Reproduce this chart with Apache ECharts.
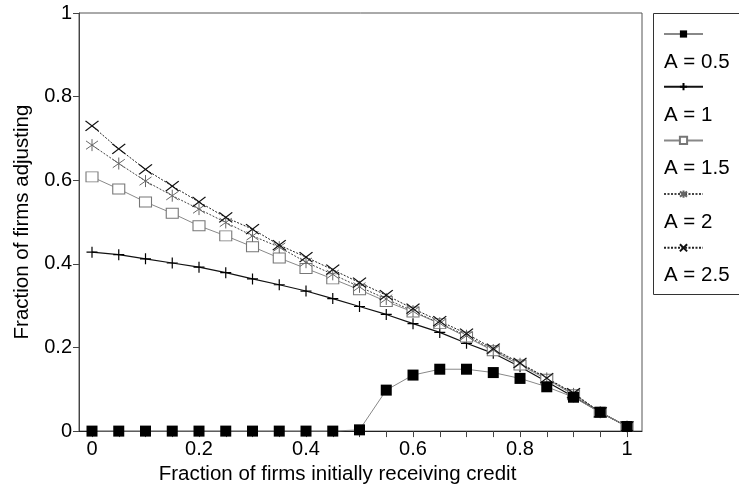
<!DOCTYPE html>
<html>
<head>
<meta charset="utf-8">
<script src="https://cdn.jsdelivr.net/npm/echarts@6/dist/echarts.min.js"></script>
<style>
  html, body { margin: 0; padding: 0; background: #fff; }
  #chart { width: 739px; height: 490px; }
</style>
</head>
<body>
<div id="chart"></div>
<script>
  // fraction of firms initially receiving credit
  const xValues = [0, 0.05, 0.1, 0.15, 0.2, 0.25, 0.3, 0.35, 0.4, 0.45, 0.5,
    0.55, 0.6, 0.65, 0.7, 0.75, 0.8, 0.85, 0.9, 0.95, 1]
  const xLabelValues = [0, 0.2, 0.4, 0.6, 0.8, 1]
  const seriesNames = ['A = 0.5', 'A = 1', 'A = 1.5', 'A = 2', 'A = 2.5']

  // fraction of firms adjusting, one list per A
  const a05 = [0, 0, 0, 0, 0, 0, 0, 0, 0, 0, 0.003, 0.098, 0.134, 0.148, 0.148,
    0.140, 0.126, 0.106, 0.081, 0.045, 0.011]
  const a1 = [0.428, 0.422, 0.412, 0.402, 0.392, 0.379, 0.364, 0.350, 0.335, 0.317,
    0.298, 0.279, 0.257, 0.236, 0.210, 0.186, 0.154, 0.118, 0.082, 0.045, 0.011]
  const a15 = [0.608, 0.579, 0.548, 0.521, 0.491, 0.467, 0.441, 0.414, 0.389, 0.364,
    0.338, 0.310, 0.285, 0.257, 0.225, 0.192, 0.158, 0.124, 0.087, 0.045, 0.011]
  const a2 = [0.684, 0.640, 0.598, 0.563, 0.531, 0.499, 0.467, 0.440, 0.404, 0.375,
    0.345, 0.316, 0.287, 0.258, 0.228, 0.194, 0.161, 0.126, 0.089, 0.045, 0.011]
  const a25 = [0.730, 0.675, 0.626, 0.586, 0.548, 0.511, 0.483, 0.445, 0.416, 0.386,
    0.355, 0.325, 0.293, 0.263, 0.233, 0.197, 0.163, 0.127, 0.091, 0.045, 0.011]

  const FONT = '"Liberation Sans", Arial, Helvetica, sans-serif'
  const pair = (ys) => xValues.map((x, i) => [x, ys[i]])

  // marker shapes drawn as stroked paths
  const plusPath = 'path://M0,5L10,5M5,0L5,10'
  const starPath = 'path://M5,0L5,10M0.7,1.5L9.3,8.5M0.7,8.5L9.3,1.5'
  const crossPath = 'path://M0,0L10,10M0,10L10,0'

  const chart = echarts.init(document.getElementById('chart'))

  // legend texts sit under each legend line
  const legendTexts = seriesNames.map((name, i) => ({
    type: 'text',
    style: {
      x: 664,
      y: 62 + i * 53.3,
      text: name,
      font: '20.5px ' + FONT,
      fill: '#000',
      verticalAlign: 'middle'
    }
  }))

  chart.setOption({
    animation: false,
    grid: {
      left: 79,
      right: 97,
      top: 13,
      bottom: 57,
      show: true,
      borderColor: '#555',
      borderWidth: 1
    },
    legend: {
      data: seriesNames,
      orient: 'vertical',
      left: 663,
      top: 29.5,
      padding: 0,
      itemWidth: 39,
      itemHeight: 9,
      itemGap: 44.5,
      selectedMode: false,
      formatter: () => '',
      textStyle: { fontSize: 1 }
    },
    graphic: [{
      type: 'rect',
      shape: { x: 653.5, y: 13.5, width: 100, height: 281 },
      style: { fill: 'none', stroke: '#333', lineWidth: 1 }
    }].concat(legendTexts),
    xAxis: {
      type: 'value',
      min: -0.0243,
      max: 1.028,
      name: 'Fraction of firms initially receiving credit',
      nameLocation: 'middle',
      nameGap: 32,
      nameTextStyle: {
        fontFamily: FONT,
        fontSize: 20.5,
        color: '#000',
        verticalAlign: 'top',
        padding: [0, 46, 0, 0]
      },
      axisLine: { onZero: false, lineStyle: { color: '#222', width: 1 } },
      axisTick: {
        customValues: xValues,
        length: 6,
        lineStyle: { color: '#444' }
      },
      axisLabel: {
        customValues: xLabelValues,
        margin: 8,
        fontFamily: FONT,
        fontSize: 20,
        color: '#000'
      },
      splitLine: { show: false }
    },
    yAxis: {
      type: 'value',
      min: 0,
      max: 1,
      interval: 0.2,
      name: 'Fraction of firms adjusting',
      nameLocation: 'middle',
      nameGap: 42,
      nameTextStyle: {
        fontFamily: FONT,
        fontSize: 20.5,
        color: '#000'
      },
      axisLine: { show: true, onZero: false, lineStyle: { color: '#444', width: 1 } },
      axisTick: { show: true, length: 6, lineStyle: { color: '#444' } },
      axisLabel: {
        margin: 7,
        fontFamily: FONT,
        fontSize: 20,
        color: '#000'
      },
      splitLine: { show: false }
    },
    series: [{
      name: 'A = 1',
      type: 'line',
      data: pair(a1),
      clip: false,
      symbol: plusPath,
      symbolSize: 11,
      lineStyle: { color: '#111', width: 1.2 },
      itemStyle: { color: '#000', borderColor: '#000', borderWidth: 1.2 }
    }, {
      name: 'A = 1.5',
      type: 'line',
      data: pair(a15),
      clip: false,
      symbol: 'rect',
      symbolSize: [12, 10],
      lineStyle: { color: '#888', width: 1 },
      itemStyle: { color: '#fff', borderColor: '#777', borderWidth: 1 }
    }, {
      name: 'A = 2',
      type: 'line',
      data: pair(a2),
      clip: false,
      symbol: starPath,
      symbolSize: 12,
      lineStyle: { color: '#444', width: 1, type: [2, 1.5] },
      itemStyle: { color: '#666', borderColor: '#666', borderWidth: 1 }
    }, {
      name: 'A = 2.5',
      type: 'line',
      data: pair(a25),
      clip: false,
      symbol: crossPath,
      symbolSize: [13, 10],
      symbolKeepAspect: false,
      lineStyle: { color: '#222', width: 1, type: [2, 1.5] },
      itemStyle: { color: '#000', borderColor: '#111', borderWidth: 1.2 }
    }, {
      name: 'A = 0.5',
      type: 'line',
      data: pair(a05),
      clip: false,
      symbol: 'rect',
      symbolSize: 11,
      lineStyle: { color: '#888', width: 1 },
      itemStyle: { color: '#000', borderColor: '#000', borderWidth: 0 }
    }]
  })
</script>
</body>
</html>
